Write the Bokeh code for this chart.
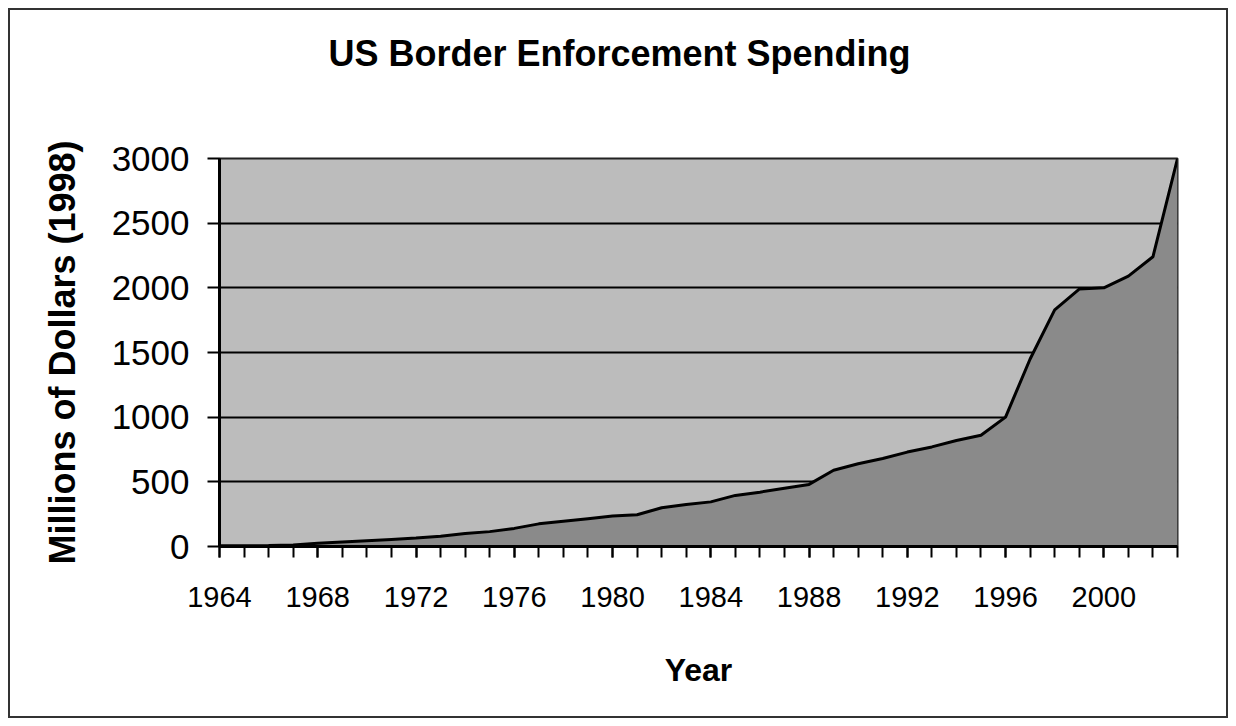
from bokeh.plotting import figure
from bokeh.models import FixedTicker, Range1d, InlineStyleSheet, Title
from bokeh.embed import file_html
from bokeh.resources import INLINE

# ---- data ----
years = list(range(1964, 2004))
spending = [5, 5, 8, 12, 25, 35, 45, 55, 65, 80,
            100, 115, 140, 175, 195, 215, 235, 245, 300, 325,
            345, 395, 420, 450, 480, 590, 640, 680, 730, 770,
            820, 860, 1000, 1450, 1830, 1990, 2000, 2090, 2240, 3000]
x_tick_years = [1964, 1968, 1972, 1976, 1980, 1984, 1988, 1992, 1996, 2000]
y_tick_values = [0, 500, 1000, 1500, 2000, 2500, 3000]
title_text = "US Border Enforcement Spending"
x_label = "Year"
y_label = "Millions of Dollars (1998)"

FONT = "Liberation Sans"
W, H = 1236, 726
ML, MR, MT, MB = 219, 59, 158, 180

p = figure(width=W, height=H, output_backend="svg", toolbar_location=None,
           x_range=Range1d(years[0], years[-1]), y_range=Range1d(0, 3000),
           min_border_left=ML, min_border_right=MR,
           min_border_top=MT, min_border_bottom=MB)

p.background_fill_color = "#bcbcbc"
p.border_fill_color = None
p.outline_line_color = "#222222"
p.outline_line_width = 2

# area + top line
p.varea(x=years, y1=0, y2=spending, fill_color="#8a8a8a")
p.line(x=years, y=spending, line_color="black", line_width=3)

# grid
p.xgrid.visible = False
p.ygrid.ticker = FixedTicker(ticks=y_tick_values)
p.ygrid.grid_line_color = "black"
p.ygrid.grid_line_width = 2

# y axis
ya = p.yaxis[0]
ya.ticker = FixedTicker(ticks=y_tick_values)
ya.axis_line_color = "black"
ya.axis_line_width = 3
ya.major_tick_out = 12
ya.major_tick_in = 0
ya.major_tick_line_width = 2
ya.minor_tick_line_color = None
ya.major_label_text_font = FONT
ya.major_label_text_font_size = "35px"
ya.major_label_text_color = "black"
ya.major_label_standoff = 18
ya.axis_label = y_label
ya.axis_label_text_font = FONT
ya.axis_label_text_font_size = "36px"
ya.axis_label_text_font_style = "bold"
ya.axis_label_text_color = "black"
ya.axis_label_standoff = 26

# x axis
xa = p.xaxis[0]
xa.ticker = FixedTicker(ticks=x_tick_years, minor_ticks=years)
xa.axis_line_color = "black"
xa.axis_line_width = 3
xa.major_tick_out = 11
xa.major_tick_in = 0
xa.minor_tick_out = 11
xa.minor_tick_in = 0
xa.major_tick_line_width = 2
xa.minor_tick_line_width = 2
xa.minor_tick_line_color = "black"
xa.major_label_text_font = FONT
xa.major_label_text_font_size = "29px"
xa.major_label_text_color = "black"
xa.major_label_standoff = 29
xa.axis_label = x_label
xa.axis_label_text_font = FONT
xa.axis_label_text_font_size = "32px"
xa.axis_label_text_font_style = "bold"
xa.axis_label_text_color = "black"
xa.axis_label_standoff = 42

# blank spacer between frame and title (closest to the frame)
p.add_layout(Title(text=" ", text_font=FONT, text_font_size="36px",
                   standoff=37), "above")

# title
p.title.text = title_text
p.title.text_font = FONT
p.title.text_font_size = "36px"
p.title.text_font_style = "bold"
p.title.text_color = "black"
p.title.align = "left"
p.title.offset = 109
p.title.standoff = 10

# white page with outer chart border
p.styles = {"background-color": "white",
            "box-shadow": "inset 0 0 0 8px white, inset 0 0 0 10px #333333"}
p.stylesheets = [InlineStyleSheet(css=":host { outline: 2px solid #333333; outline-offset: -10px; }")]

open("out.html", "w").write(file_html(p, INLINE))
